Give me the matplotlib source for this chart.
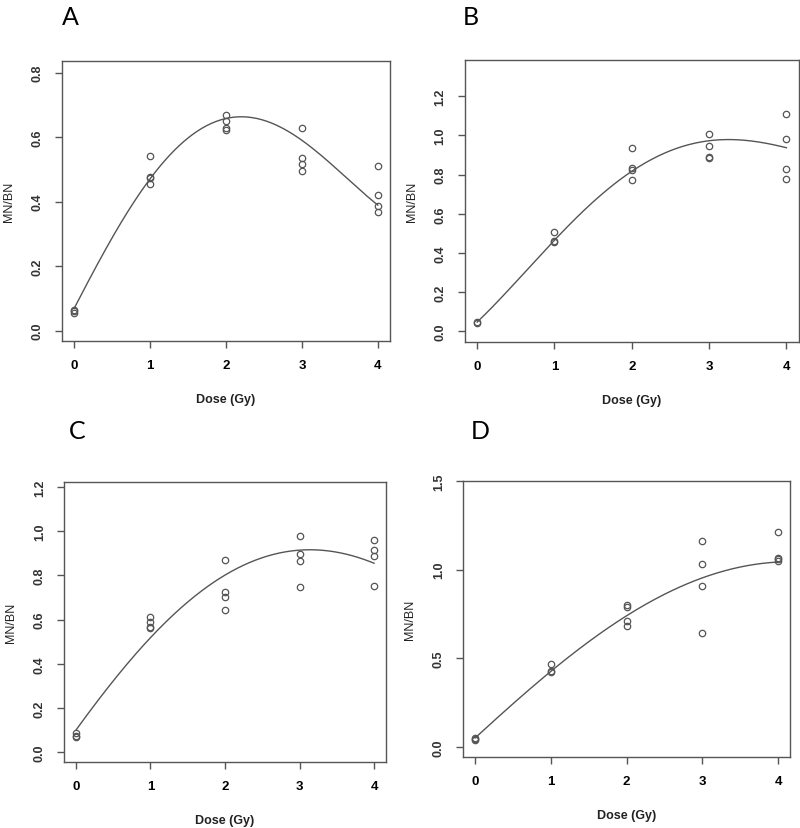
import numpy as np
import matplotlib
matplotlib.use("Agg")
import matplotlib.pyplot as plt

# Dose levels (Gy)
doses = [0, 1, 2, 3, 4]

panel_a_points = [
    [0.055, 0.060, 0.065],
    [0.540, 0.476, 0.473, 0.454],
    [0.669, 0.649, 0.628, 0.623],
    [0.627, 0.535, 0.517, 0.496],
    [0.511, 0.419, 0.386, 0.369],
]
panel_b_points = [
    [0.040, 0.045],
    [0.505, 0.462, 0.455],
    [0.934, 0.833, 0.826, 0.770],
    [1.007, 0.947, 0.891, 0.886],
    [1.110, 0.982, 0.830, 0.780],
]
panel_c_points = [
    [0.085, 0.075, 0.068],
    [0.613, 0.590, 0.565, 0.560],
    [0.869, 0.725, 0.700, 0.643],
    [0.980, 0.898, 0.866, 0.749],
    [0.962, 0.913, 0.886, 0.753],
]
panel_d_points = [
    [0.053, 0.045, 0.039],
    [0.470, 0.427, 0.421],
    [0.803, 0.789, 0.711, 0.684],
    [1.163, 1.032, 0.910, 0.641],
    [1.212, 1.068, 1.058, 1.049],
]

# Fitted curve at half-Gy steps
curve_doses = [0, 0.5, 1, 1.5, 2, 2.5, 3, 3.5, 4]
panel_a_curve = [0.068, 0.290, 0.470, 0.595, 0.657, 0.655, 0.590, 0.490, 0.390]
panel_b_curve = [0.050, 0.240, 0.475, 0.660, 0.820, 0.915, 0.972, 0.980, 0.935]
panel_c_curve = [0.100, 0.320, 0.520, 0.680, 0.800, 0.880, 0.915, 0.905, 0.855]
panel_d_curve = [0.053, 0.240, 0.434, 0.590, 0.742, 0.860, 0.955, 1.015, 1.043]

panels = [
    dict(label="A", points=panel_a_points, curve=panel_a_curve,
         rect=[0.0775, 0.5875, 0.41, 0.3378], ylim=(-0.032, 0.836),
         yticks=[0.0, 0.2, 0.4, 0.6, 0.8], fmt="{:.1f}", lpos=(0.078, 0.993)),
    dict(label="B", points=panel_b_points, curve=panel_b_curve,
         rect=[0.581, 0.5863, 0.4175, 0.340], ylim=(-0.055, 1.385),
         yticks=[0.0, 0.2, 0.4, 0.6, 0.8, 1.0, 1.2], fmt="{:.1f}", lpos=(0.578, 0.993)),
    dict(label="C", points=panel_c_points, curve=panel_c_curve,
         rect=[0.08, 0.0796, 0.4025, 0.3378], ylim=(-0.045, 1.223),
         yticks=[0.0, 0.2, 0.4, 0.6, 0.8, 1.0, 1.2], fmt="{:.1f}", lpos=(0.086, 0.4935)),
    dict(label="D", points=panel_d_points, curve=panel_d_curve,
         rect=[0.5788, 0.0856, 0.409, 0.333], ylim=(-0.056, 1.5),
         yticks=[0.0, 0.5, 1.0, 1.5], fmt="{:.1f}", lpos=(0.588, 0.4935)),
]

grey = "#555555"
fig = plt.figure(figsize=(8, 8.29), dpi=100)

for p in panels:
    ax = fig.add_axes(p["rect"])
    # scatter the replicate values
    for d, vals in zip(doses, p["points"]):
        ax.plot([d] * len(vals), vals, linestyle="none", marker="o",
                markersize=4.6, markerfacecolor="none", markeredgecolor=grey,
                markeredgewidth=0.9)
    # smooth the read curve with a low-order polynomial
    coef = np.polyfit(curve_doses, p["curve"], 4)
    xs = np.linspace(0, 4, 200)
    ax.plot(xs, np.polyval(coef, xs), color=grey, linewidth=1.0)

    ax.set_xlim(-0.16, 4.16)
    ax.set_ylim(*p["ylim"])
    ax.set_xticks(doses)
    ax.set_xticklabels([str(d) for d in doses], fontweight="bold",
                       fontsize=9.5, family="Liberation Sans")
    ax.set_yticks(p["yticks"])
    ax.set_yticklabels([p["fmt"].format(v) for v in p["yticks"]], rotation=90,
                       va="center", fontweight="bold", fontsize=9,
                       family="Liberation Sans", color="#333333")
    ax.tick_params(direction="out", length=5, width=1.0, color=grey, pad=8)
    for s in ax.spines.values():
        s.set_color(grey)
        s.set_linewidth(1.0)
    ax.set_xlabel("Dose (Gy)", fontweight="bold", fontsize=9,
                  family="Liberation Sans", labelpad=16, color="#222222")
    ax.set_ylabel("MN/BN", fontsize=9, family="Liberation Sans",
                  labelpad=12, color="#222222")
    fig.text(p["lpos"][0], p["lpos"][1], p["label"], fontsize=18,
             family="Lato", va="top", ha="left")

fig.savefig("out.png", dpi=100)
